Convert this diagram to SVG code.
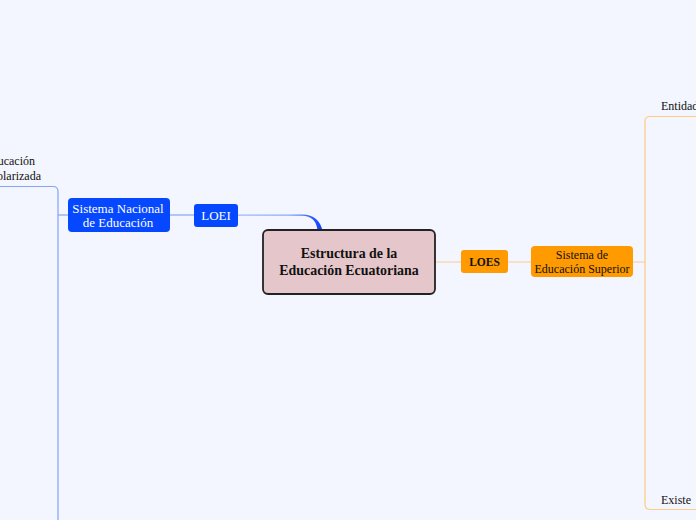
<svg xmlns="http://www.w3.org/2000/svg" width="696" height="520" viewBox="0 0 696 520">
<defs>
<linearGradient id="gb" x1="238" y1="0" x2="322" y2="0" gradientUnits="userSpaceOnUse">
<stop offset="0" stop-color="#9FB8FA"/>
<stop offset="0.6" stop-color="#8AA8F8"/>
<stop offset="1" stop-color="#0A3FFF"/>
</linearGradient>
</defs>
<style>
text{font-family:"Liberation Serif","Times New Roman",serif;text-anchor:middle;dominant-baseline:central}
.blue rect{fill:#0648FF}
.blue text{fill:#FFFFFF}
.orange rect{fill:#FF9A00}
.orange text{fill:#111111}
.lb{fill:none;stroke:#86A3F6;stroke-width:1.2}
.lo{fill:none;stroke:#F8D3A2;stroke-width:1.2}
.bo{fill:none;stroke:#FFCB80;stroke-width:1.2}
.plain{fill:#111111;font-size:12px}
</style>
<rect width="696" height="520" fill="#F3F6FE"/>
<g id="connectors">
<path d="M238,214.4 H302 Q318.5,214.4 322.5,230.5 L317.5,230.5 Q316,216 302,215.8 H238 Z" fill="url(#gb)"/>
<path class="lb" d="M194,215 H170"/>
<path class="lb" d="M68,215 H58"/>
<path class="lb" d="M0,186.5 H53 Q58,186.5 58,191.5 V520"/>
<path class="lo" d="M435,262 H461"/>
<path class="lo" d="M508,262 H531"/>
<path class="lo" d="M633,262 H645"/>
<path class="bo" d="M696,116.5 H650 Q645,116.5 645,121.5 V504 Q645,509.5 650,509.5 H696"/>
</g>
<g id="central">
<rect x="263" y="230" width="172" height="64" rx="5" fill="#E5C6CA" stroke="#222222" stroke-width="1.8"/>
<text x="349" y="253" font-size="13.9" font-weight="bold" fill="#111111">Estructura de la</text>
<text x="349" y="270.5" font-size="13.9" font-weight="bold" fill="#111111">Educación Ecuatoriana</text>
</g>
<g id="loei" class="blue">
<rect x="194" y="204" width="44" height="23" rx="3"/>
<text x="216" y="215.5" font-size="13">LOEI</text>
</g>
<g id="sistema-nacional" class="blue">
<rect x="68" y="198" width="102" height="34" rx="4"/>
<text x="118" y="208" font-size="13">Sistema Nacional</text>
<text x="118" y="222.5" font-size="13">de Educación</text>
</g>
<g id="educacion-escolarizada">
<text class="plain" x="35" y="161" style="text-anchor:end">ucación</text>
<text class="plain" x="41" y="175.5" style="text-anchor:end">olarizada</text>
</g>
<g id="loes" class="orange">
<rect x="461" y="250" width="47" height="23" rx="3"/>
<text x="484.5" y="262" font-size="11.5" font-weight="bold">LOES</text>
</g>
<g id="sistema-superior" class="orange">
<rect x="531" y="246" width="102" height="31" rx="4"/>
<text x="582" y="255" font-size="12">Sistema de</text>
<text x="582" y="269" font-size="12">Educación Superior</text>
</g>
<g id="entidades">
<text class="plain" x="661" y="106" style="text-anchor:start">Entidad</text>
</g>
<g id="existe">
<text class="plain" x="661" y="500" style="text-anchor:start">Existe</text>
</g>
</svg>
